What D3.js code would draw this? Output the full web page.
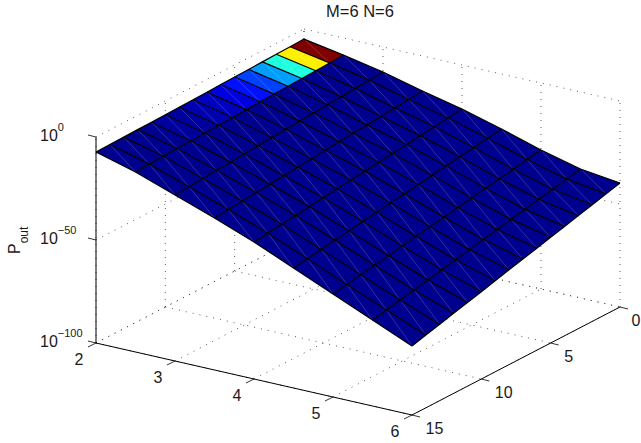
<!DOCTYPE html>
<html lang="en">
<head>
<meta charset="UTF-8">
<title>M=6 N=6</title>
<script src="https://d3js.org/d3.v7.min.js"></script>
<style>
    html, body { margin: 0; padding: 0; background: #fff; }
    svg { display: block; }
    text { font-family: "Liberation Sans", Arial, sans-serif; fill: #1a1a1a; }
    .tick-label { font-size: 16px; }
    .exp { font-size: 11px; }
</style>
</head>
<body>
<div id="chart"></div>
<script>
const width = 641;
const height = 443;

const xTicks = [2, 3, 4, 5, 6];
const yTicks = [0, 5, 10, 15];
const zTicks = [0, -50, -100];
const zLabels = ["0", "\u221250", "\u2212100"];

const xValues = [2, 2.5, 3, 3.5, 4, 4.5, 5, 5.5, 6];
const yValues = [0, 1, 2, 3, 4, 5, 6, 7, 8, 9, 10, 11, 12, 13, 14, 15];

// log10(Pout), one row per xValues entry, one column per yValues entry
const logPout = [
    [-4.9, -5.1, -5.3, -5.47, -5.64, -5.8, -6.0, -6.2, -6.35, -6.5, -6.65, -6.8, -6.9, -7.05, -7.15, -7.3],
    [-8.3, -8.6, -8.9, -9.2, -9.45, -9.75, -10, -10.3, -10.6, -10.9, -11.15, -11.45, -11.7, -12, -12.3, -12.6],
    [-12.1, -12.6, -13.1, -13.6, -14.05, -14.55, -15, -15.5, -16, -16.5, -16.95, -17.45, -17.9, -18.4, -18.9, -19.4],
    [-17, -17.6, -18.2, -18.85, -19.45, -20.05, -20.7, -21.3, -21.9, -22.5, -23.15, -23.75, -24.35, -25, -25.6, -26.2],
    [-21.4, -22.2, -23, -23.8, -24.6, -25.45, -26.25, -27.05, -27.85, -28.65, -29.45, -30.3, -31.1, -31.9, -32.7, -33.5],
    [-26.7, -27.7, -28.7, -29.7, -30.7, -31.7, -32.7, -33.7, -34.7, -35.7, -36.7, -37.7, -38.7, -39.7, -40.7, -41.7],
    [-32.5, -33.65, -34.85, -36, -37.15, -38.35, -39.5, -40.65, -41.85, -43, -44.15, -45.35, -46.5, -47.65, -48.85, -50],
    [-37.4, -38.8, -40.2, -41.6, -43, -44.35, -45.75, -47.15, -48.55, -49.95, -51.35, -52.75, -54.15, -55.5, -56.9, -58.3],
    [-39.8, -41.6, -43.4, -45.15, -46.9, -48.7, -50.5, -52.25, -54, -55.8, -57.6, -59.35, -61.1, -62.9, -64.7, -66.5]
];

// the view is orthographic, so every data axis is a straight screen offset
const xToPx = d3.scaleLinear().domain([2, 6]).range([96, 412]);
const xToPy = d3.scaleLinear().domain([2, 6]).range([343, 415]);
const yToPx = d3.scaleLinear().domain([15, 0]).range([0, 208]);
const yToPy = d3.scaleLinear().domain([15, 0]).range([0, -108]);
const zToPy = d3.scaleLinear().domain([-100, 0]).range([0, -206]);

function project(x, y, z) {
    return [xToPx(x) + yToPx(y), xToPy(x) + yToPy(y) + zToPy(z)];
}

// matlab jet(64)
function jet(t) {
    const i = Math.min(63, Math.floor(t * 64));
    const u = (i + 1) / 64;
    const ch = c => Math.round(255 * Math.max(0, Math.min(1, 1.5 - Math.abs(4 * u - c))));
    return d3.rgb(ch(3), ch(2), ch(1)).toString();
}

const svg = d3.select("#chart").append("svg")
    .attr("width", width)
    .attr("height", height);

const line = d3.line();

function seg(a, b, color, w, dash) {
    return svg.append("path")
        .attr("d", line([a, b]))
        .attr("fill", "none")
        .attr("stroke", color)
        .attr("stroke-width", w)
        .attr("stroke-dasharray", dash || null);
}

// back grid
const dots = "1 6";
const dotColor = "#333";
const dotWidth = 0.8;
const zMin = -100, zMax = 0, xMin = 2, xMax = 6, yMin = 0, yMax = 15;

xTicks.forEach(x => {
    seg(project(x, yMax, zMin), project(x, yMin, zMin), dotColor, dotWidth, dots);
    seg(project(x, yMin, zMin), project(x, yMin, zMax), dotColor, dotWidth, dots);
});
yTicks.forEach(y => {
    seg(project(xMin, y, zMin), project(xMax, y, zMin), dotColor, dotWidth, dots);
    seg(project(xMin, y, zMin), project(xMin, y, zMax), dotColor, dotWidth, dots);
});
zTicks.forEach(z => {
    seg(project(xMin, yMax, z), project(xMin, yMin, z), dotColor, dotWidth, dots);
    seg(project(xMin, yMin, z), project(xMax, yMin, z), dotColor, dotWidth, dots);
});

// surface
const pMax = d3.max(logPout.flat().map(v => Math.pow(10, v)));
const cells = [];
for (let i = xValues.length - 2; i >= 0; i--) {
    for (let j = 0; j < yValues.length - 1; j++) {
        cells.push({ i, j });
    }
}
const corner = (i, j) => project(xValues[i], yValues[j], logPout[i][j]);

const surface = svg.append("g");
cells.forEach(({ i, j }) => {
    const a = corner(i, j), b = corner(i + 1, j), c = corner(i + 1, j + 1), d = corner(i, j + 1);
    surface.append("path")
        .attr("d", line([a, b, c, d]) + "Z")
        .attr("fill", jet(Math.pow(10, logPout[i][j]) / pMax))
        .attr("stroke", "none");
    surface.append("path")
        .attr("d", line([a, c]))
        .attr("stroke", "#fff")
        .attr("stroke-opacity", 0.3)
        .attr("stroke-width", 0.6);
});
xValues.forEach((x, i) => {
    surface.append("path")
        .attr("d", line(yValues.map((y, j) => corner(i, j))))
        .attr("fill", "none").attr("stroke", "#000").attr("stroke-width", 1.2);
});
yValues.forEach((y, j) => {
    surface.append("path")
        .attr("d", line(xValues.map((x, i) => corner(i, j))))
        .attr("fill", "none").attr("stroke", "#000").attr("stroke-width", 1.2);
});

// axes
seg(project(xMin, yMax, zMin), project(xMin, yMax, zMax), "#000", 1);
seg(project(xMin, yMax, zMin), project(xMax, yMax, zMin), "#000", 1);
seg(project(xMax, yMax, zMin), project(xMax, yMin, zMin), "#000", 1);

function offset(p, dx, dy) {
    return [p[0] + dx, p[1] + dy];
}

xTicks.forEach(x => {
    const p = project(x, yMax, zMin);
    seg(p, offset(p, -8, 4), "#000", 0.8);
    svg.append("text").attr("class", "tick-label")
        .attr("x", p[0] - 17).attr("y", p[1] + 22)
        .attr("text-anchor", "middle").text(x);
});
yTicks.forEach(y => {
    const p = project(xMax, y, zMin);
    seg(p, offset(p, 8, 2), "#000", 0.8);
    svg.append("text").attr("class", "tick-label")
        .attr("x", Math.min(p[0] + 13.5, width - 9.5)).attr("y", p[1] + 19)
        .text(y);
});
zTicks.forEach((z, k) => {
    const p = project(xMin, yMax, z);
    seg(p, offset(p, -8, -2), "#000", 0.8);
    const label = svg.append("text").attr("class", "tick-label")
        .attr("x", 40).attr("y", p[1] + 4);
    label.append("tspan").text("10");
    label.append("tspan").attr("class", "exp").attr("dy", -10).text(zLabels[k]);
});

svg.append("text")
    .attr("x", 360).attr("y", 17)
    .attr("text-anchor", "middle")
    .attr("font-size", 16.5)
    .text("M=6 N=6");

const zTitle = svg.append("text")
    .attr("transform", "translate(20,254) rotate(-90)")
    .attr("font-size", 16);
zTitle.append("tspan").text("P");
zTitle.append("tspan").attr("font-size", 12).attr("dy", 8).text("out");
</script>
</body>
</html>
